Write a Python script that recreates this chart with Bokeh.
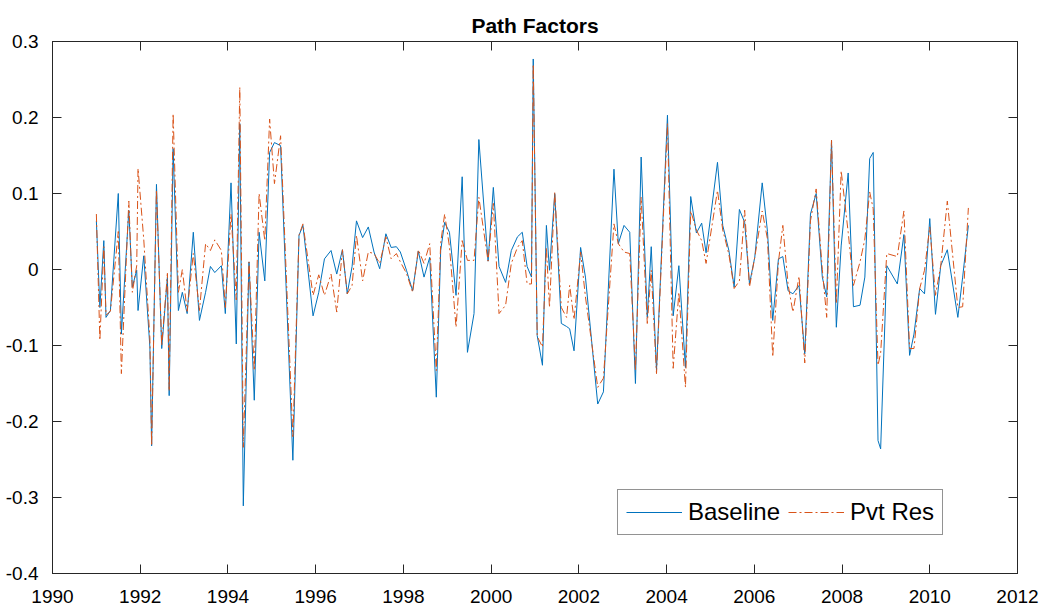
from bokeh.plotting import figure
from bokeh.models import FixedTicker, LinearAxis, Legend, LegendItem, ColumnDataSource
from bokeh.embed import file_html
from bokeh.resources import INLINE

# FOMC-date sample (decimal years)
dates = [1991.00, 1991.08, 1991.17, 1991.22, 1991.32, 1991.50, 1991.57, 1991.74, 1991.82, 1991.92,
         1991.95, 1992.08, 1992.22, 1992.26, 1992.37, 1992.49, 1992.62, 1992.66, 1992.75, 1992.87,
         1992.96, 1993.07, 1993.21, 1993.35, 1993.49, 1993.60, 1993.70, 1993.85, 1993.94, 1994.07,
         1994.19, 1994.27, 1994.35, 1994.48, 1994.60, 1994.71, 1994.84, 1994.95, 1995.06, 1995.20,
         1995.48, 1995.62, 1995.71, 1995.94, 1996.07, 1996.20, 1996.35, 1996.48, 1996.61, 1996.72,
         1996.83, 1996.93, 1997.07, 1997.20, 1997.33, 1997.46, 1997.60, 1997.72, 1997.84, 1997.93,
         1998.07, 1998.21, 1998.34, 1998.47, 1998.60, 1998.75, 1998.85, 1998.94, 1999.05, 1999.20,
         1999.34, 1999.46, 1999.61, 1999.72, 1999.93, 2000.05, 2000.18, 2000.33, 2000.46, 2000.60,
         2000.71, 2000.82, 2000.92, 2000.96, 2001.05, 2001.17, 2001.26, 2001.33, 2001.45, 2001.60,
         2001.72, 2001.79, 2001.89, 2002.04, 2002.15, 2002.43, 2002.56, 2002.80, 2002.90, 2003.03,
         2003.16, 2003.29, 2003.42, 2003.56, 2003.65, 2003.77, 2004.02, 2004.15, 2004.28, 2004.43,
         2004.55, 2004.68, 2004.80, 2004.90, 2005.16, 2005.28, 2005.42, 2005.54, 2005.66, 2005.78,
         2005.89, 2006.01, 2006.18, 2006.30, 2006.42, 2006.55, 2006.65, 2006.77, 2006.88, 2007.02,
         2007.15, 2007.28, 2007.41, 2007.55, 2007.65, 2007.76, 2007.87, 2007.98, 2008.14, 2008.26,
         2008.41, 2008.52, 2008.63, 2008.71, 2008.82, 2008.88, 2009.02, 2009.26, 2009.41, 2009.54,
         2009.64, 2009.77, 2009.88, 2010.00, 2010.13, 2010.25, 2010.40, 2010.64, 2010.75, 2010.88]

baseline = [0.064, -0.050, 0.038, -0.063, -0.054, 0.100, -0.085, 0.078, -0.023, -0.001,
            -0.054, 0.018, -0.102, -0.232, 0.112, -0.104, -0.010, -0.166, 0.159, -0.054,
            -0.030, -0.058, 0.049, -0.067, -0.030, 0.004, -0.004, 0.005, -0.058, 0.114,
            -0.098, 0.192, -0.311, 0.010, -0.172, 0.049, -0.015, 0.154, 0.167, 0.163,
            -0.251, 0.045, 0.058, -0.061, -0.030, 0.014, 0.025, -0.006, 0.026, -0.032,
            0.004, 0.064, 0.042, 0.056, 0.023, 0.001, 0.047, 0.029, 0.030, 0.023,
            -0.001, -0.028, 0.024, -0.010, 0.016, -0.168, 0.025, 0.062, 0.049, -0.034,
            0.122, -0.109, -0.058, 0.171, 0.011, 0.108, 0.004, -0.017, 0.025, 0.043,
            0.049, 0.004, -0.010, 0.277, -0.087, -0.126, 0.058, -0.001, 0.100, -0.071,
            -0.075, -0.078, -0.107, 0.029, -0.010, -0.177, -0.161, 0.132, 0.034, 0.058,
            0.049, -0.150, 0.148, -0.063, 0.030, -0.133, 0.203, -0.061, 0.005, -0.129,
            0.096, 0.048, 0.061, 0.022, 0.141, 0.058, 0.025, -0.023, 0.079, 0.062,
            -0.019, 0.016, 0.114, 0.050, -0.067, 0.014, 0.017, -0.028, -0.032, -0.021,
            -0.111, 0.073, 0.100, -0.010, -0.036, 0.170, -0.076, 0.031, 0.127, -0.049,
            -0.047, -0.010, 0.146, 0.154, -0.225, -0.236, 0.005, -0.019, 0.046, -0.113,
            -0.085, -0.025, -0.032, 0.067, -0.059, 0.005, 0.026, -0.063, -0.010, 0.058]

pvt_res = [0.073, -0.093, 0.030, -0.060, -0.055, 0.050, -0.137, 0.090, -0.030, 0.005,
           0.133, 0.040, -0.090, -0.232, 0.105, -0.100, -0.005, -0.160, 0.205, -0.030,
           0.000, -0.055, 0.021, -0.054, 0.034, 0.025, 0.039, 0.025, -0.050, 0.073,
           -0.040, 0.240, -0.234, 0.010, -0.133, 0.100, 0.038, 0.198, 0.113, 0.176,
           -0.220, 0.045, 0.060, -0.034, -0.007, -0.034, -0.006, -0.056, 0.026, -0.032,
           -0.021, 0.045, -0.015, 0.023, 0.021, 0.008, 0.043, 0.014, 0.021, 0.010,
           -0.005, -0.030, 0.026, 0.008, 0.034, -0.133, 0.035, 0.073, 0.030, -0.076,
           0.038, 0.012, 0.012, 0.095, 0.011, 0.087, -0.058, -0.047, 0.008, 0.029,
           0.038, -0.019, -0.019, 0.270, -0.088, -0.102, 0.029, -0.050, 0.102, -0.050,
           -0.063, -0.021, -0.066, 0.023, -0.036, -0.155, -0.143, 0.060, 0.034, 0.023,
           0.021, -0.133, 0.095, -0.071, -0.001, -0.137, 0.192, -0.130, -0.030, -0.155,
           0.077, 0.052, 0.038, 0.008, 0.104, 0.052, 0.020, -0.025, -0.015, 0.078,
           -0.023, 0.016, 0.077, 0.040, -0.115, 0.010, 0.058, -0.020, -0.056, -0.009,
           -0.123, 0.064, 0.106, 0.000, -0.063, 0.170, -0.045, 0.130, 0.049, -0.021,
           0.010, 0.040, 0.102, 0.080, -0.126, -0.110, 0.021, 0.017, 0.077, -0.104,
           -0.104, -0.025, -0.001, 0.056, -0.034, 0.005, 0.090, -0.050, -0.049, 0.081]

x_ticks = [1990, 1992, 1994, 1996, 1998, 2000, 2002, 2004, 2006, 2008, 2010, 2012]
y_ticks = [-0.4, -0.3, -0.2, -0.1, 0, 0.1, 0.2, 0.3]
y_tick_labels = ["-0.4", "-0.3", "-0.2", "-0.1", "0", "0.1", "0.2", "0.3"]

FONT = "Liberation Sans"
AX = "#262626"

src = ColumnDataSource(dict(x=dates, b=baseline, o=pvt_res))

p = figure(width=1039, height=616, x_range=(1990, 2012), y_range=(-0.4, 0.3),
           output_backend="svg", toolbar_location=None,
           min_border_left=52, min_border_right=22, min_border_top=41, min_border_bottom=43,
           title="Path Factors")
p.title.align = "center"
p.title.text_font = FONT
p.title.text_font_size = "21px"
p.title.text_font_style = "bold"
p.title.text_color = "black"

p.xgrid.visible = False
p.ygrid.visible = False
p.outline_line_color = AX
p.outline_line_width = 1
p.background_fill_color = "white"
p.border_fill_color = "white"

r1 = p.line("x", "b", source=src, line_color="#0072BD", line_width=1)
r2 = p.line("x", "o", source=src, line_color="#D95319", line_width=1, line_dash="8 3 2 3")

xt = FixedTicker(ticks=x_ticks, minor_ticks=[])
yt = FixedTicker(ticks=y_ticks, minor_ticks=[])

def style_axis(ax, show_labels):
    ax.axis_line_color = AX
    ax.major_tick_line_color = AX
    ax.major_tick_in = 9
    ax.major_tick_out = 0
    ax.minor_tick_in = 0
    ax.minor_tick_out = 0
    ax.major_label_text_font = FONT
    ax.major_label_text_font_size = "19px"
    ax.major_label_text_color = "black" if show_labels else None

p.xaxis.ticker = xt
p.yaxis.ticker = yt
p.yaxis.major_label_overrides = {t: l for t, l in zip(y_ticks, y_tick_labels)}
style_axis(p.xaxis[0], True)
style_axis(p.yaxis[0], True)
p.xaxis.major_label_standoff = 16
p.yaxis.major_label_standoff = 14

top = LinearAxis(ticker=FixedTicker(ticks=x_ticks, minor_ticks=[]))
style_axis(top, False)
top.major_label_text_font_size = "1px"
top.major_label_standoff = 0
p.add_layout(top, "above")

right = LinearAxis(ticker=FixedTicker(ticks=y_ticks, minor_ticks=[]))
style_axis(right, False)
right.major_label_text_font_size = "1px"
right.major_label_standoff = 0
p.add_layout(right, "right")

legend = Legend(items=[LegendItem(label="Baseline", renderers=[r1]),
                       LegendItem(label="Pvt Res", renderers=[r2])],
                orientation="horizontal", location=(565, 38))
legend.label_text_font = FONT
legend.label_text_font_size = "24px"
legend.label_text_color = "black"
legend.glyph_width = 56
legend.glyph_height = 24
legend.label_standoff = 6
legend.spacing = 8
legend.padding = 8
legend.margin = 0
legend.border_line_color = AX
legend.border_line_width = 1
legend.background_fill_color = "white"
legend.background_fill_alpha = 1
p.add_layout(legend)

open("out.html", "w").write(file_html(p, INLINE))
